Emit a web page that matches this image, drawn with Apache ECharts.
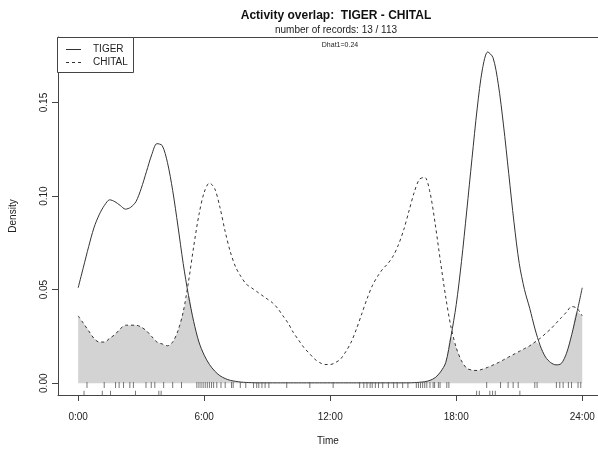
<!DOCTYPE html>
<html><head><meta charset="utf-8">
<script src="https://cdn.jsdelivr.net/npm/echarts@6/dist/echarts.min.js"></script>
<style>html,body{margin:0;padding:0;background:#fff}#c{width:598px;height:451px}</style>
</head><body><div id="c"></div>
<script>
// hours grid (0.25 h)
var hours = [];
for (var k = 0; k <= 96; k++) hours.push(k / 4);

var tigerDensity = [
0.051,0.062,0.073,0.083,0.090,0.095,0.098,0.097,0.095,0.093,0.094,0.097,0.104,0.113,0.122,0.128,
0.127,0.118,0.103,0.084,0.064,0.047,0.033,0.022,0.015,0.010,0.0065,0.004,0.0025,0.0015,0.001,0.0006,
0.0004,0.0003,0.0002,0.0002,0.0002,0.0002,0.0002,0.0002,0.0002,0.0002,0.0002,0.0002,0.0002,0.0002,0.0002,0.0002,
0.0002,0.0002,0.0002,0.0002,0.0002,0.0002,0.0002,0.0002,0.0002,0.0002,0.0002,0.0002,0.0002,0.0002,0.0002,0.0002,
0.0003,0.0005,0.0008,0.0015,0.003,0.006,0.011,0.025,0.042,0.065,0.092,0.120,0.147,0.168,0.177,0.174,
0.160,0.138,0.112,0.086,0.064,0.050,0.040,0.029,0.020,0.014,0.011,0.0098,0.0105,0.016,0.026,0.038,
0.051
];
var chitalDensity = [
0.036,0.032,0.028,0.024,0.022,0.022,0.024,0.026,0.029,0.031,0.031,0.031,0.030,0.028,0.025,0.022,
0.021,0.020,0.022,0.028,0.038,0.054,0.073,0.090,0.102,0.107,0.104,0.094,0.081,0.070,0.062,0.057,
0.053,0.051,0.049,0.047,0.045,0.043,0.040,0.036,0.032,0.027,0.023,0.019,0.016,0.013,0.011,0.010,
0.010,0.011,0.013,0.017,0.022,0.029,0.037,0.045,0.052,0.057,0.061,0.064,0.068,0.074,0.082,0.092,
0.102,0.109,0.110,0.102,0.085,0.065,0.046,0.030,0.019,0.012,0.008,0.007,0.0068,0.0075,0.0085,0.0097,
0.011,0.0125,0.014,0.0155,0.017,0.0185,0.020,0.022,0.024,0.0265,0.029,0.032,0.035,0.038,0.041,0.040,
0.036
];
// rug: observation times (hours)
var chitalTimes = [0.42,1.24,1.78,1.95,2.16,2.46,2.63,3.23,3.48,3.65,4.07,4.50,4.92,
5.65,5.75,5.85,5.95,6.05,6.15,6.25,6.35,6.45,6.6,6.8,7.0,7.30,7.38,7.72,7.98,
8.35,8.5,8.6,8.75,8.9,9.08,9.93,11.03,12.14,13.4,13.6,13.75,13.9,14.0,14.15,14.3,14.5,
14.77,15.02,15.19,15.45,15.7,16.1,16.2,16.3,16.4,16.5,16.6,16.75,16.9,16.97,17.15,17.23,17.55,
17.65,19.45,20.11,20.47,20.71,20.95,21.74,21.85,22.77,22.93,23.09,23.34,23.49,23.8,23.93];
var tigerTimes = [0.28,1.15,1.54,2.73,3.84,3.95,18.97,19.1,19.6,19.73,19.86,21.03];

var xTicks = [0, 6, 12, 18, 24];
var yTicks = [0, 0.05, 0.10, 0.15];

var overlap = hours.map(function (h, i) { return [h, Math.min(tigerDensity[i], chitalDensity[i])]; });
var FONT = 'Liberation Sans, Arial, sans-serif';
var LC = '#444';
var chart = echarts.init(document.getElementById('c'));
chart.setOption({
  animation: false,
  textStyle: { fontFamily: FONT },
  title: [
    { text: 'Activity overlap:  TIGER - CHITAL', left: 331, top: 5, textAlign: 'center',
      textStyle: { fontSize: 12, fontWeight: 'bold', color: '#111', fontFamily: FONT } },
    { text: 'number of records: 13 / 113', left: 331, top: 20, textAlign: 'center',
      textStyle: { fontSize: 10, fontWeight: 'normal', color: '#222', fontFamily: FONT } },
    { text: 'Dhat1=0.24', left: 335, top: 37, textAlign: 'center',
      textStyle: { fontSize: 7, fontWeight: 'normal', color: '#222', fontFamily: FONT } }
  ],
  graphic: [
    { type: 'rect', shape: { x: 57.5, y: 37.5, width: 76, height: 35 }, style: { fill: '#fff', stroke: LC, lineWidth: 1 }, z: 10 },
    { type: 'line', shape: { x1: 66, y1: 49.5, x2: 81, y2: 49.5 }, style: { stroke: '#333', lineWidth: 1 }, z: 11 },
    { type: 'line', shape: { x1: 66, y1: 62.5, x2: 81, y2: 62.5 }, style: { stroke: '#333', lineWidth: 1, lineDash: [3, 3] }, z: 11 },
    { type: 'text', x: 93, y: 49.5, style: { text: 'TIGER', fill: '#222', font: '10px ' + FONT, textVerticalAlign: 'middle' }, z: 11 },
    { type: 'text', x: 93, y: 62.5, style: { text: 'CHITAL', fill: '#222', font: '10px ' + FONT, textVerticalAlign: 'middle' }, z: 11 }
  ],
  grid: { left: 57, top: 37, right: 0, bottom: 52, show: false },
  xAxis: [{
    type: 'value', min: -0.96, max: 24.75, position: 'bottom',
    name: 'Time', nameLocation: 'middle', nameGap: 41,
    nameTextStyle: { fontSize: 10, color: '#222', fontFamily: FONT },
    axisLine: { show: true, onZero: false, lineStyle: { color: LC, width: 1 } }, splitLine: { show: false },
    axisTick: { show: true, customValues: xTicks, length: 6, lineStyle: { color: LC } },
    axisLabel: { customValues: xTicks, margin: 17, fontSize: 10, color: '#222',
      formatter: function (v) { return v + ':00'; } }
  }, {
    type: 'value', min: -0.96, max: 24.75, position: 'top',
    axisLine: { show: true, onZero: false, lineStyle: { color: LC, width: 1 } },
    axisTick: { show: false }, axisLabel: { show: false }, splitLine: { show: false }
  }],
  yAxis: {
    type: 'value', min: -0.0063, max: 0.185, position: 'left',
    name: 'Density', nameLocation: 'middle', nameGap: 40, nameRotate: 90,
    nameTextStyle: { fontSize: 10, color: '#222', fontFamily: FONT },
    axisLine: { show: true, onZero: false, lineStyle: { color: LC, width: 1 } }, splitLine: { show: false },
    axisTick: { show: true, customValues: yTicks, length: 6, lineStyle: { color: LC } },
    axisLabel: { customValues: yTicks, rotate: 90, margin: 9, fontSize: 10, color: '#222',
      formatter: function (v) { return v.toFixed(2); } }
  },
  series: [
    { name: 'overlap', type: 'line', data: overlap, showSymbol: false, symbol: 'none', smooth: 0.3,
      lineStyle: { width: 0 }, areaStyle: { color: '#d3d3d3', opacity: 1 }, z: 1, silent: true },
    { name: 'TIGER', type: 'line', data: hours.map(function (h, i) { return [h, tigerDensity[i]]; }),
      symbol: 'none', smooth: 0.3, lineStyle: { color: '#333', width: 1, type: 'solid' }, z: 3 },
    { name: 'CHITAL', type: 'line', data: hours.map(function (h, i) { return [h, chitalDensity[i]]; }),
      symbol: 'none', smooth: 0.3, lineStyle: { color: '#333', width: 1, type: [3, 3] }, z: 3 },
    { name: 'chitalRug', type: 'scatter', data: chitalTimes.map(function (t) { return [t, -0.0009]; }),
      symbol: 'rect', symbolSize: [1, 6], itemStyle: { color: '#555' }, z: 4, silent: true },
    { name: 'tigerRug', type: 'scatter', data: tigerTimes.map(function (t) { return [t, -0.0053]; }),
      symbol: 'rect', symbolSize: [1, 5], itemStyle: { color: '#555' }, z: 4, silent: true }
  ]
});
</script>
</body></html>
